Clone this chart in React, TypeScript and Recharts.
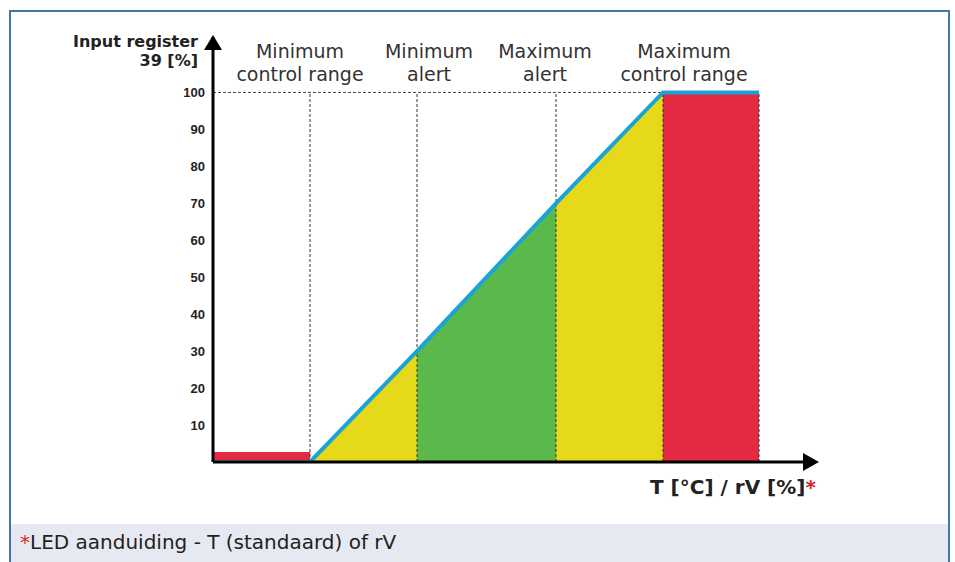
import React from 'react';
import {
  ComposedChart,
  Area,
  Line,
  XAxis,
  YAxis,
  ReferenceLine,
  ReferenceDot
} from 'recharts';

// x positions of the range boundaries (abstract units along the T / rV axis)
const boundaries = [0, 97, 204, 343, 450, 546];
// input register 39 [%] at each boundary
const signal = [0, 0, 30, 70, 100, 100];
// fixed height of the low red band before the control range starts
const lowBand = 2.7;

const zoneKeys = ['lowRed', 'yellowLow', 'green', 'yellowHigh', 'highRed'];
const zoneColors = ['#e52b44', '#e6d91a', '#5ab94a', '#e6d91a', '#e52b44'];

const yTicks = [10, 20, 30, 40, 50, 60, 70, 80, 90, 100];

const headers = [
  ['Minimum', 'control range'],
  ['Minimum', 'alert'],
  ['Maximum', 'alert'],
  ['Maximum', 'control range']
];
const headerCenters = [300, 429, 545, 684];

const FONT = '"DejaVu Sans", Verdana, sans-serif';
const TICK_FONT = '"Liberation Sans", Arial, sans-serif';

// build the table recharts needs
const data = boundaries.map((x, j) => {
  const row: any = { x, signal: signal[j] };
  zoneKeys.forEach((key, i) => {
    if (j === i || j === i + 1) {
      row[key] = i === 0 ? lowBand : signal[j];
    }
  });
  return row;
});

const UpArrow = ({ cx, cy }: any) => (
  <path d={`M${cx},${cy - 2} L${cx - 9},${cy + 13} L${cx + 9},${cy + 13} Z`} fill="#000" />
);

const RightArrow = ({ cx, cy }: any) => (
  <path d={`M${cx + 6},${cy} L${cx - 10},${cy - 9} L${cx - 10},${cy + 9} Z`} fill="#000" />
);

export default function App() {
  return (
    <div style={{ position: 'absolute', left: 0, top: 0, width: 955, height: 562, background: '#fff', fontFamily: FONT, overflow: 'hidden' }}>
      {/* frame */}
      <div style={{ position: 'absolute', left: 9, top: 10, width: 937, height: 560, border: '2px solid #3e7aa9', borderBottom: 'none' }} />
      {/* footer band */}
      <div style={{ position: 'absolute', left: 11, top: 524, width: 937, height: 38, background: '#e6e9f2' }} />
      <div style={{ position: 'absolute', left: 20, top: 530, fontSize: 20, color: '#222', whiteSpace: 'nowrap' }}>
        <span style={{ color: '#d8232a' }}>*</span>LED aanduiding - T (standaard) of rV
      </div>

      <div style={{ position: 'absolute', left: 0, top: 0 }}>
        <ComposedChart
          width={955}
          height={524}
          data={data}
          margin={{ top: 37, right: 142, bottom: 42, left: 153 }}
        >
          <XAxis
            dataKey="x"
            type="number"
            domain={[0, 600]}
            tick={false}
            tickLine={false}
            axisLine={{ stroke: '#000', strokeWidth: 3 }}
            height={20}
          />
          <YAxis
            type="number"
            domain={[0, 115]}
            ticks={yTicks}
            tickLine={false}
            tickSize={0}
            tickMargin={8}
            width={60}
            axisLine={{ stroke: '#000', strokeWidth: 3 }}
            tick={{ fontSize: 13, fontWeight: 'bold', fill: '#222', fontFamily: TICK_FONT }}
            allowDataOverflow
          />
          {zoneKeys.map((key, i) => (
            <Area
              key={key}
              type="linear"
              dataKey={key}
              fill={zoneColors[i]}
              fillOpacity={1}
              stroke="none"
              isAnimationActive={false}
              dot={false}
              activeDot={false}
            />
          ))}
          <ReferenceLine
            segment={[{ x: 0, y: 100 }, { x: boundaries[4], y: 100 }]}
            stroke="#444"
            strokeDasharray="3 2"
            strokeWidth={1}
          />
          {boundaries.slice(1).map((b) => (
            <ReferenceLine
              key={b}
              segment={[{ x: b, y: 0 }, { x: b, y: 100 }]}
              stroke="#333"
              strokeDasharray="3 2"
              strokeWidth={1}
            />
          ))}
          <Line
            type="linear"
            dataKey="signal"
            stroke="#1ca3d6"
            strokeWidth={4}
            dot={false}
            activeDot={false}
            isAnimationActive={false}
          />
          <ReferenceDot x={0} y={115} r={1} shape={UpArrow} ifOverflow="visible" />
          <ReferenceDot x={600} y={0} r={1} shape={RightArrow} ifOverflow="visible" />
        </ComposedChart>
      </div>

      {/* axis titles */}
      <div style={{ position: 'absolute', right: 955 - 198, top: 32, textAlign: 'right', fontSize: 16, fontWeight: 'bold', lineHeight: '19px', color: '#222', whiteSpace: 'nowrap' }}>
        Input register<br />39 [%]
      </div>
      <div style={{ position: 'absolute', left: 650, top: 475, fontSize: 20, fontWeight: 'bold', color: '#222', whiteSpace: 'nowrap' }}>
        T [°C] / rV [%]<span style={{ color: '#d8232a' }}>*</span>
      </div>

      {/* range headers */}
      {headers.map((lines, i) => (
        <div
          key={i}
          style={{
            position: 'absolute',
            left: headerCenters[i] - 80,
            width: 160,
            top: 40,
            textAlign: 'center',
            fontSize: 19,
            lineHeight: '23px',
            color: '#333',
            whiteSpace: 'nowrap'
          }}
        >
          {lines[0]}
          <br />
          {lines[1]}
        </div>
      ))}
    </div>
  );
}
